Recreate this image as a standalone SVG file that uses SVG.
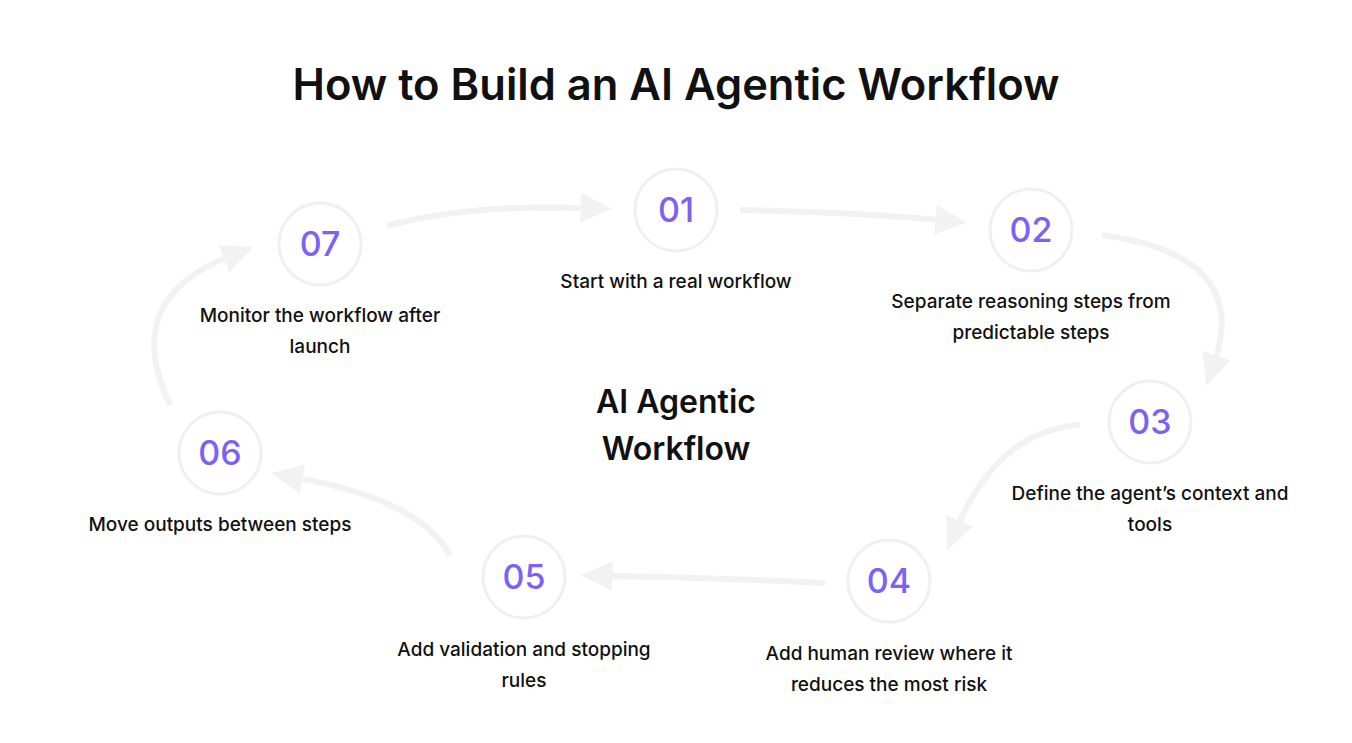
<svg xmlns="http://www.w3.org/2000/svg" width="1352" height="743" viewBox="0 0 1352 743">
<style>
.c{fill:#fff;stroke:#f0f0f0;stroke-width:3}
.n{font-family:Inter,"Liberation Sans",sans-serif;font-size:34px;font-weight:500;fill:#7b61f5;text-anchor:middle}
.l{font-family:Inter,"Liberation Sans",sans-serif;font-size:19px;font-weight:500;fill:#111;text-anchor:middle}
.a{fill:none;stroke:#f2f2f2;stroke-width:6;marker-end:url(#h)}
</style>
<defs><marker id="h" markerUnits="userSpaceOnUse" markerWidth="34" markerHeight="34" refX="4" refY="15" orient="auto" viewBox="0 0 30 30"><path d="M0,2 L28,15 L0,28 Z" fill="#f2f2f2"/></marker></defs>
<rect width="1352" height="743" fill="#fff"/>
<text x="676" y="100" font-family="Inter,'Liberation Sans',sans-serif" font-size="43.5" font-weight="600" fill="#111" text-anchor="middle">How to Build an AI Agentic Workflow</text>
<g id="connectors">
<path class="a" d="M387,226 Q470,204 585,208"/>
<path class="a" d="M740,210 Q850,212 940,220"/>
<path class="a" d="M1102,235 Q1250,255 1215,360"/>
<path class="a" d="M1080,425 Q1000,430 958,525"/>
<path class="a" d="M825,583 Q720,578 608,576"/>
<path class="a" d="M450,555 Q420,500 298,478"/>
<path class="a" d="M170,405 Q120,300 228,257"/>
</g>
<text class="l" x="676" y="413" style="font-size:32px;font-weight:600">AI Agentic</text>
<text class="l" x="676" y="460" style="font-size:32px;font-weight:600">Workflow</text>
<g id="n01"><circle class="c" cx="676" cy="210" r="41"/><text class="n" x="676" y="222">01</text><text class="l" x="676" y="288">Start with a real workflow</text></g>
<g id="n02"><circle class="c" cx="1031" cy="230" r="41"/><text class="n" x="1031" y="242">02</text><text class="l" x="1031" y="308">Separate reasoning steps from</text><text class="l" x="1031" y="339">predictable steps</text></g>
<g id="n03"><circle class="c" cx="1150" cy="422" r="41"/><text class="n" x="1150" y="434">03</text><text class="l" x="1150" y="500">Define the agent’s context and</text><text class="l" x="1150" y="531">tools</text></g>
<g id="n04"><circle class="c" cx="889" cy="581" r="41"/><text class="n" x="889" y="593">04</text><text class="l" x="889" y="660">Add human review where it</text><text class="l" x="889" y="691">reduces the most risk</text></g>
<g id="n05"><circle class="c" cx="524" cy="577" r="41"/><text class="n" x="524" y="589">05</text><text class="l" x="524" y="656">Add validation and stopping</text><text class="l" x="524" y="687">rules</text></g>
<g id="n06"><circle class="c" cx="220" cy="453" r="41"/><text class="n" x="220" y="465">06</text><text class="l" x="220" y="531">Move outputs between steps</text></g>
<g id="n07"><circle class="c" cx="320" cy="244" r="41"/><text class="n" x="320" y="256">07</text><text class="l" x="320" y="322">Monitor the workflow after</text><text class="l" x="320" y="353">launch</text></g>
</svg>
